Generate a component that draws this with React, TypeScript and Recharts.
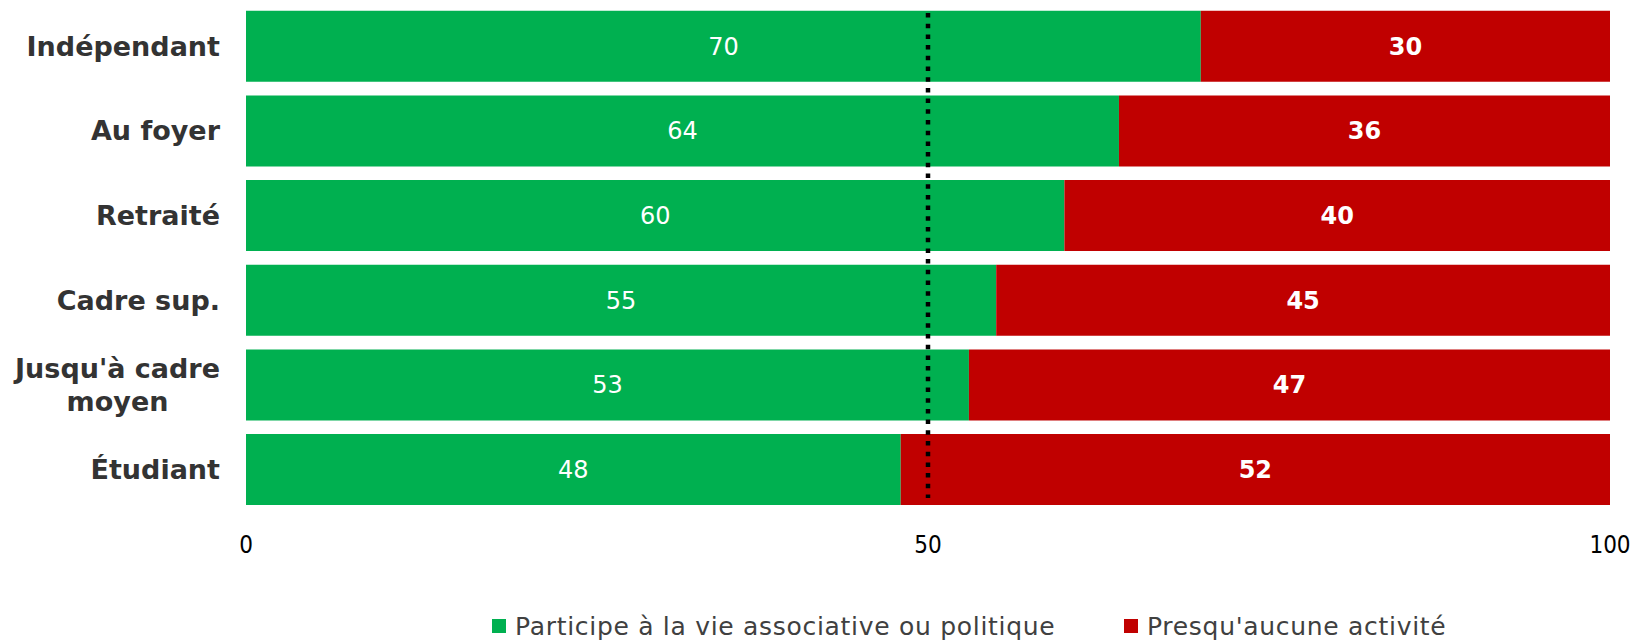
import React from 'react';
import { BarChart, Bar, XAxis, YAxis, LabelList, ReferenceLine, Legend } from 'recharts';

// categories top to bottom, "\n" marks a wrapped label
const categories = ['Indépendant', 'Au foyer', 'Retraité', 'Cadre sup.', "Jusqu'à cadre\nmoyen", 'Étudiant'];
const participe = [70, 64, 60, 55, 53, 48];
const aucune = [30, 36, 40, 45, 47, 52];
const xTicks = [0, 50, 100];

const seriesNames = ['Participe à la vie associative ou politique', "Presqu'aucune activité"];
const GREEN = '#00B050';
const RED = '#C00000';

const data = categories.map((name, i) => ({ name, participe: participe[i], aucune: aucune[i] }));

const LABEL_SIZE = 27;
const LABEL_FONT = `bold ${LABEL_SIZE}px "DejaVu Sans"`;
const ctx = typeof document !== 'undefined' ? document.createElement('canvas').getContext('2d') : null;
const measure = (t: string) => {
  if (!ctx) return t.length * 14;
  ctx.font = LABEL_FONT;
  return ctx.measureText(t).width;
};

const CategoryTick = ({ x, y, payload }: any) => {
  const lines: string[] = String(payload.value).split('\n');
  const common = { fill: '#333333', fontSize: LABEL_SIZE, fontWeight: 'bold' as const, fontFamily: 'DejaVu Sans' };
  if (lines.length === 1) {
    return (
      <text x={x} y={y} dy="0.35em" textAnchor="end" {...common}>{lines[0]}</text>
    );
  }
  const w = Math.max(...lines.map(measure));
  const cx = x - w / 2;
  const step = 33;
  const start = y - ((lines.length - 1) * step) / 2;
  return (
    <text textAnchor="middle" {...common}>
      {lines.map((l, i) => (
        <tspan key={i} x={cx} y={start + i * step} dy="0.35em">{l}</tspan>
      ))}
    </text>
  );
};

const DottedLine = (p: any) => {
  const top = Math.min(p.y1, p.y2);
  const bottom = Math.max(p.y1, p.y2);
  return (
    <line x1={p.x1} x2={p.x2} y1={top + 9} y2={bottom - 14}
      stroke="#000" strokeWidth={4.5} strokeDasharray="4.5 6.2" />
  );
};

const renderLegend = () => {
  const colors = [GREEN, RED];
  const lefts = [0, 632];
  return (
    <div style={{ position: 'relative', height: 28 }}>
      {seriesNames.map((n, i) => (
        <div key={n} style={{ position: 'absolute', left: lefts[i], top: 0, height: 28, display: 'flex', alignItems: 'center', whiteSpace: 'nowrap' }}>
          <span style={{ display: 'inline-block', width: 14, height: 14, background: colors[i], marginRight: 9 }} />
          <span style={{ fontFamily: '"DejaVu Sans"', fontSize: 25, letterSpacing: 0.7, color: '#404040' }}>{n}</span>
        </div>
      ))}
    </div>
  );
};

export default function App() {
  return (
    <div style={{ position: 'absolute', left: 0, top: 0, width: 1637, height: 641, background: '#fff' }}>
      <BarChart
        width={1637}
        height={641}
        data={data}
        layout="vertical"
        margin={{ top: 4, right: 27, left: 0, bottom: 89 }}
        barCategoryGap="8%"
      >
        <XAxis
          type="number"
          domain={[0, 100]}
          ticks={xTicks}
          height={40}
          axisLine={false}
          tickLine={false}
          tickSize={0}
          tickMargin={24}
          tick={{ fill: '#000', fontSize: 24, fontFamily: '"DejaVu Sans Condensed", "DejaVu Sans"' }}
        />
        <YAxis
          type="category"
          dataKey="name"
          width={246}
          axisLine={false}
          tickLine={false}
          tickSize={0}
          tickMargin={26}
          interval={0}
          tick={<CategoryTick />}
        />
        <Bar dataKey="participe" stackId="a" fill={GREEN} isAnimationActive={false}>
          <LabelList dataKey="participe" position="center" fill="#fff" fontSize={24} fontFamily="DejaVu Sans" />
        </Bar>
        <Bar dataKey="aucune" stackId="a" fill={RED} isAnimationActive={false}>
          <LabelList dataKey="aucune" position="center" fill="#fff" fontSize={24} fontWeight="bold" fontFamily="DejaVu Sans" />
        </Bar>
        <ReferenceLine x={50} shape={<DottedLine />} />
        <Legend
          layout="horizontal"
          verticalAlign="middle"
          align="center"
          wrapperStyle={{ top: 612, left: 492, width: 1100, height: 28 }}
          content={renderLegend}
        />
      </BarChart>
    </div>
  );
}
